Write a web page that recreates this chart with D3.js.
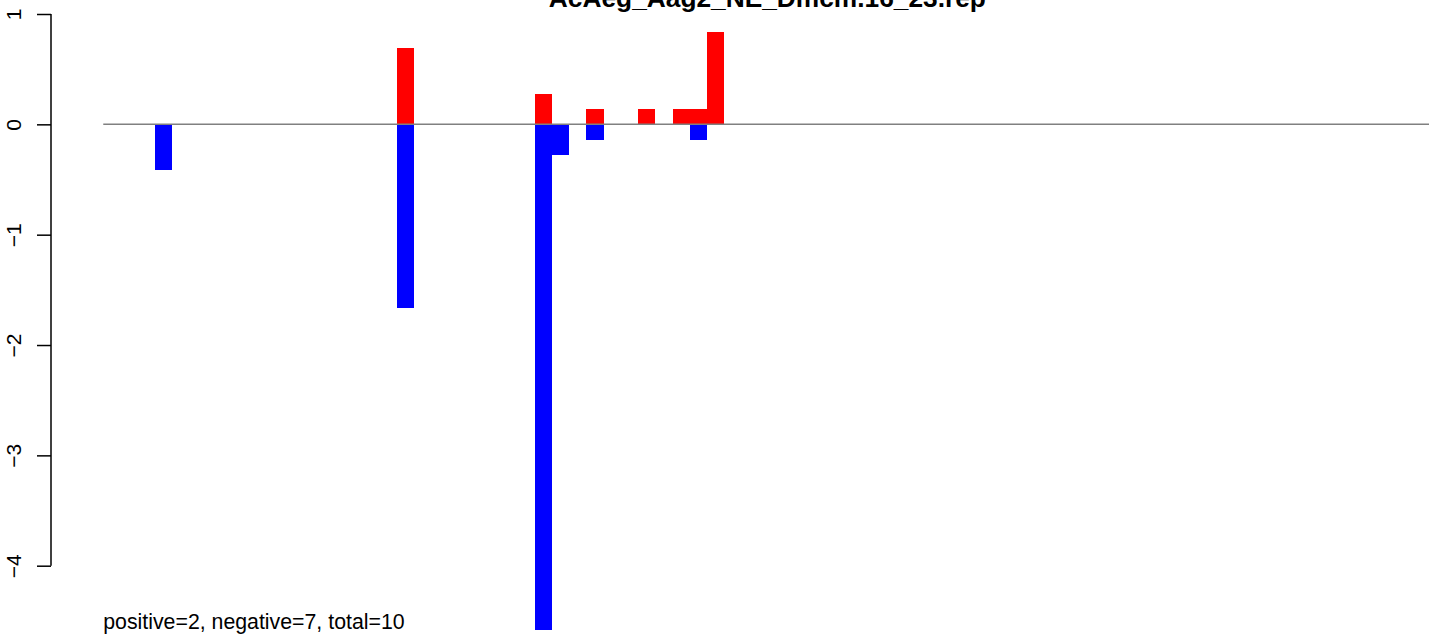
<!DOCTYPE html>
<html>
<head>
<meta charset="utf-8">
<script src="https://cdn.jsdelivr.net/npm/d3@7"></script>
<style>
  html, body { margin: 0; padding: 0; background: #fff; overflow: hidden; }
  svg { display: block; font-family: "Liberation Sans", Arial, Helvetica, sans-serif; }
</style>
</head>
<body>
<svg id="chart" width="1429" height="634"></svg>
<script>
// ---- data ----
const titleText = "AcAeg_Aag2_NE_Dmcm.16_23.rep";
const slotCount = 77;
const positions = [3, 17, 25, 26, 28, 31, 33, 34, 35];
const positiveValues = [0, 0.694, 0.278, 0, 0.139, 0.139, 0.139, 0.139, 0.833];
const negativeValues = [-0.417, -1.667, -4.583, -0.278, -0.139, 0, 0, -0.139, 0];
const yTicks = [1, 0, -1, -2, -3, -4];
const summaryText = "positive=2, negative=7, total=10";

// ---- layout ----
const svg = d3.select("#chart");
const x = d3.scaleLinear().domain([0, slotCount]).range([103.25, 103.25 + slotCount * 17.25]);
const y = d3.scaleLinear().domain([-4, 1]).range([565.7, 14]);

const rows = positions.map((p, i) => ({ p, pos: positiveValues[i], neg: negativeValues[i] }));

// positive bars
svg.append("g").selectAll("rect").data(rows.filter(d => d.pos > 0)).join("rect")
  .attr("x", d => x(d.p))
  .attr("width", d => x(d.p + 1) - x(d.p))
  .attr("y", d => y(d.pos))
  .attr("height", d => y(0) - y(d.pos))
  .attr("fill", "#FF0000")
  .attr("shape-rendering", "crispEdges");

// negative bars
svg.append("g").selectAll("rect").data(rows.filter(d => d.neg < 0)).join("rect")
  .attr("x", d => x(d.p))
  .attr("width", d => x(d.p + 1) - x(d.p))
  .attr("y", y(0))
  .attr("height", d => y(d.neg) - y(0))
  .attr("fill", "#0000FF")
  .attr("shape-rendering", "crispEdges");

// zero line
svg.append("line")
  .attr("x1", x(0)).attr("x2", x(slotCount))
  .attr("y1", y(0)).attr("y2", y(0))
  .attr("stroke", "#808080").attr("stroke-width", 1.5);

// y axis
const axis = d3.axisLeft(y).tickValues(yTicks).tickSize(14).tickPadding(0)
  .tickFormat(d => d < 0 ? "\u2212" + Math.abs(d) : String(d));
const ag = svg.append("g").attr("transform", "translate(51,0)").call(axis);
ag.select(".domain").attr("stroke", "#000").attr("stroke-width", 1.5).attr("d", `M0,${y(1)}V${y(-4)}`);
ag.selectAll(".tick line").attr("stroke", "#000").attr("stroke-width", 1.5);
ag.selectAll(".tick text")
  .attr("x", 0).attr("dy", null).attr("y", 0)
  .attr("transform", "translate(-30.5,0) rotate(-90)")
  .attr("text-anchor", "middle")
  .attr("font-size", 21)
  .attr("font-family", "Liberation Sans, Arial, sans-serif")
  .attr("fill", "#000");

// title
svg.append("text")
  .attr("x", (x(0) + x(slotCount)) / 2).attr("y", 7)
  .attr("text-anchor", "middle")
  .attr("font-weight", "bold")
  .attr("font-size", 26.3)
  .text(titleText);

// summary text
svg.append("text")
  .attr("x", x(0)).attr("y", 629)
  .attr("font-size", 21.3)
  .text(summaryText);
</script>
</body>
</html>
